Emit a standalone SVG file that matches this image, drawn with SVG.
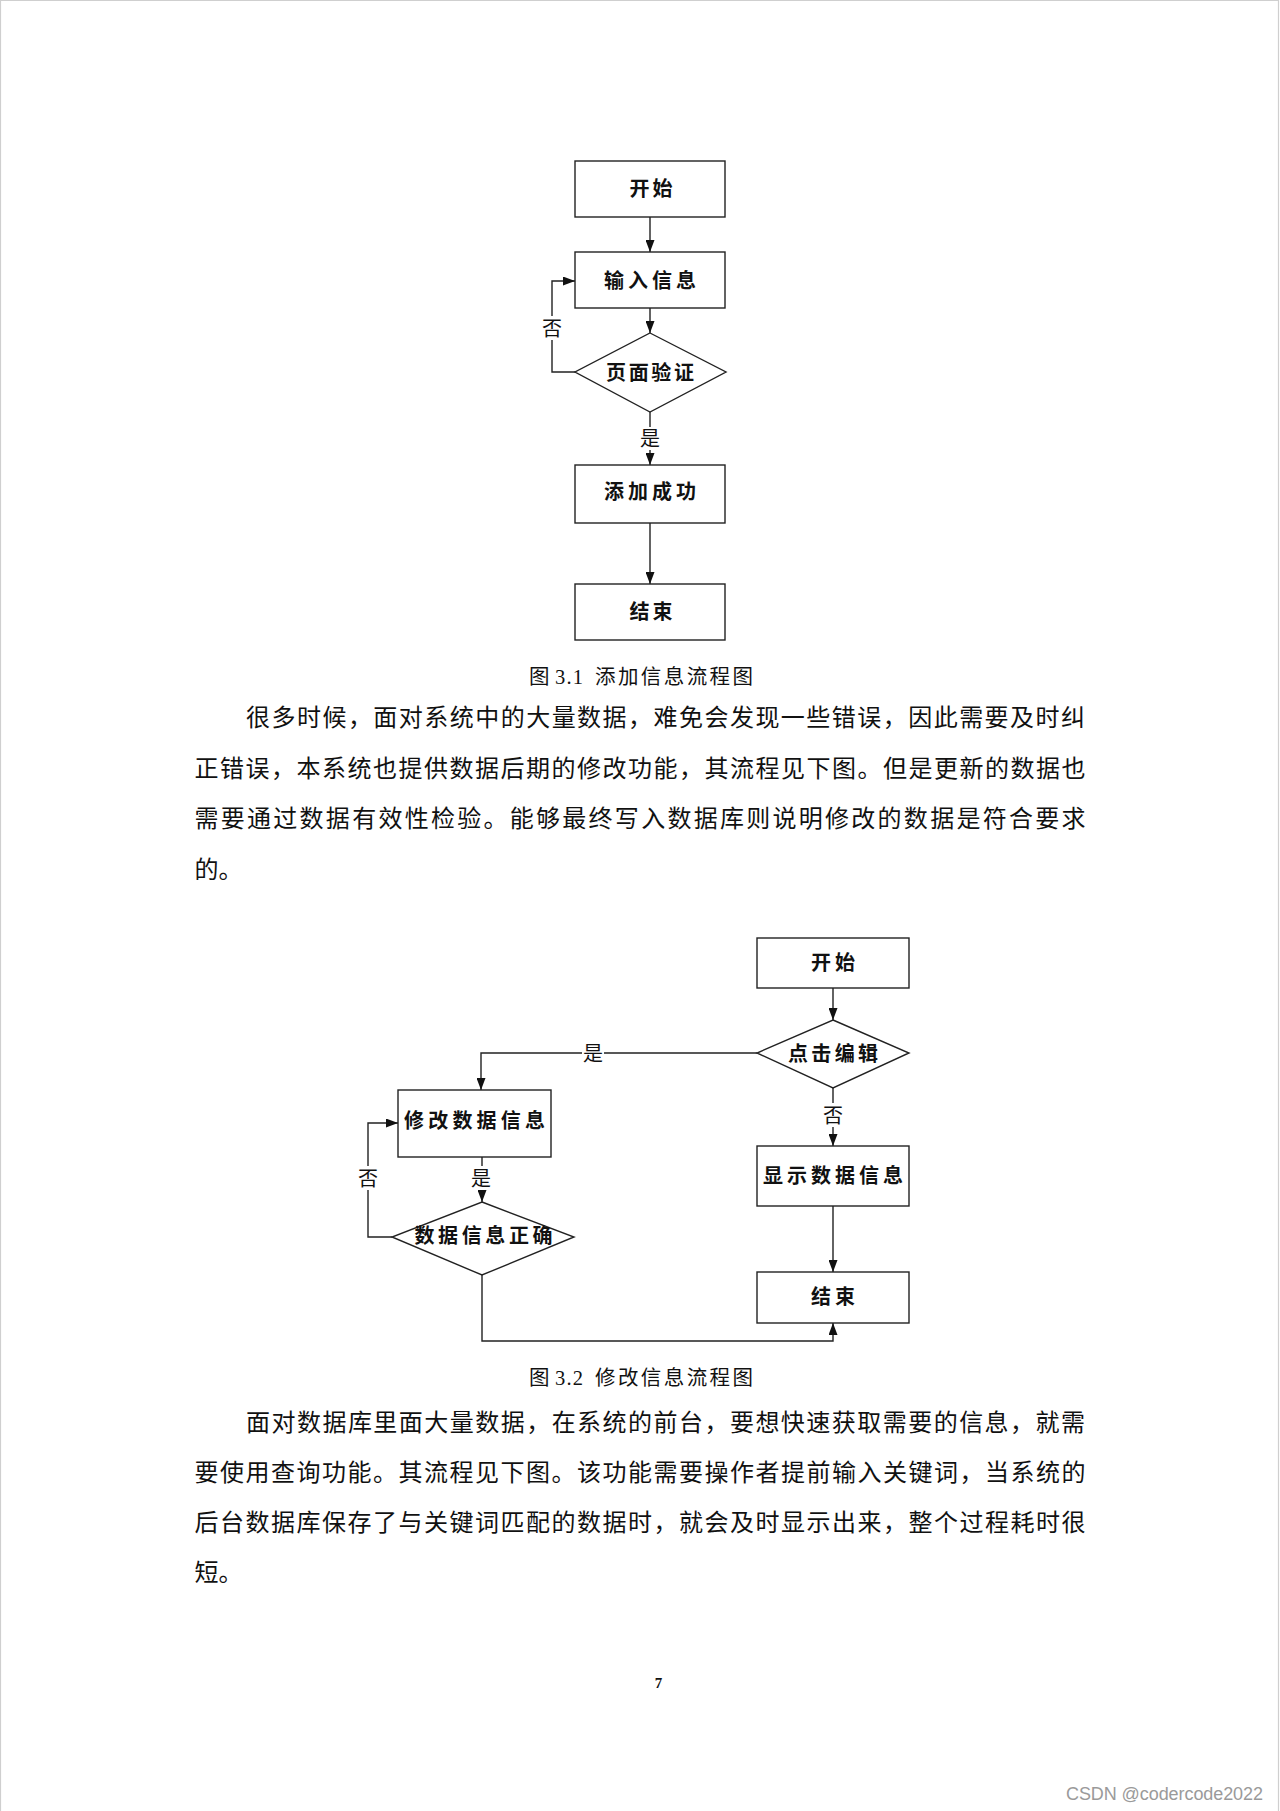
<svg xmlns="http://www.w3.org/2000/svg" width="1280" height="1811" viewBox="0 0 1280 1811">
<defs>
<style>
.box{fill:#fff;stroke:#222;stroke-width:1.4}
.ln{fill:none;stroke:#222;stroke-width:1.4}
.nt{font-family:"Liberation Serif","Noto Sans CJK SC",serif;font-size:20px;font-weight:700;fill:#111;text-anchor:middle}
.lb{font-family:"Liberation Serif","Noto Sans CJK SC",serif;font-size:20px;fill:#111;text-anchor:middle}
.body{font-family:"Liberation Serif","Noto Sans CJK SC",serif;font-size:24px;fill:#111}
.cap{font-family:"Liberation Serif","Noto Sans CJK SC",serif;font-size:20.5px;fill:#111}
.bg{fill:#fff}
</style>
<marker id="ah" markerUnits="userSpaceOnUse" markerWidth="12" markerHeight="9" refX="12" refY="4.5" orient="auto">
<path d="M0,0 L12,4.5 L0,9 z" fill="#111"/>
</marker>
</defs>
<rect x="0" y="0" width="1280" height="1811" fill="#fff"/>
<path d="M0.5,1811 V0.5 H1278.5 V1811" fill="none" stroke="#cfcfcf" stroke-width="1.2"/>

<g id="connectors">
<path class="ln" d="M650,217 V252" marker-end="url(#ah)"/>
<path class="ln" d="M650,308 V333" marker-end="url(#ah)"/>
<path class="ln" d="M575,372 H552 V281 H575" marker-end="url(#ah)"/>
<path class="ln" d="M650,412 V465" marker-end="url(#ah)"/>
<path class="ln" d="M650,523 V584" marker-end="url(#ah)"/>
<path class="ln" d="M833,988 V1020" marker-end="url(#ah)"/>
<path class="ln" d="M757,1053 H481 V1090" marker-end="url(#ah)"/>
<path class="ln" d="M482,1157 V1202" marker-end="url(#ah)"/>
<path class="ln" d="M392,1237 H368 V1123 H398" marker-end="url(#ah)"/>
<path class="ln" d="M482,1275 V1341 H833 V1323" marker-end="url(#ah)"/>
<path class="ln" d="M833,1088 V1146" marker-end="url(#ah)"/>
<path class="ln" d="M833,1206 V1272" marker-end="url(#ah)"/>
</g>

<g id="edge-labels">
<rect class="bg" x="542" y="316" width="20" height="24"/>
<text class="lb" x="552" y="336">否</text>
<rect class="bg" x="640" y="427" width="20" height="23"/>
<text class="lb" x="650" y="446">是</text>
<rect class="bg" x="582" y="1042" width="22" height="22"/>
<text class="lb" x="593" y="1061">是</text>
<rect class="bg" x="471" y="1166" width="20" height="24"/>
<text class="lb" x="481" y="1186">是</text>
<rect class="bg" x="358" y="1166" width="20" height="24"/>
<text class="lb" x="368" y="1186">否</text>
<rect class="bg" x="823" y="1103" width="20" height="24"/>
<text class="lb" x="833" y="1123">否</text>
</g>

<g id="n1-start">
<rect class="box" x="575" y="161" width="150" height="56"/>
<text class="nt" x="651" y="196" textLength="43">开始</text>
</g>
<g id="n1-input">
<rect class="box" x="575" y="252" width="150" height="56"/>
<text class="nt" x="650" y="287.5" textLength="92">输入信息</text>
</g>
<g id="n1-check">
<polygon class="box" points="650,333 726,372 650,412 575,372"/>
<text class="nt" x="650" y="379.5" textLength="88">页面验证</text>
</g>
<g id="n1-success">
<rect class="box" x="575" y="465" width="150" height="58"/>
<text class="nt" x="650" y="499" textLength="92">添加成功</text>
</g>
<g id="n1-end">
<rect class="box" x="575" y="584" width="150" height="56"/>
<text class="nt" x="651" y="619" textLength="43">结束</text>
</g>

<text class="cap" x="529" y="684">图</text>
<text class="cap" x="555" y="684" font-family="Liberation Serif" textLength="28">3.1</text>
<text class="cap" x="595" y="684" textLength="158">添加信息流程图</text>

<g id="para1">
<text class="body" x="246" y="726" textLength="839" lengthAdjust="spacing">很多时候，面对系统中的大量数据，难免会发现一些错误，因此需要及时纠</text>
<text class="body" x="194.5" y="777" textLength="891" lengthAdjust="spacing">正错误，本系统也提供数据后期的修改功能，其流程见下图。但是更新的数据也</text>
<text class="body" x="194.5" y="827" textLength="891" lengthAdjust="spacing">需要通过数据有效性检验。能够最终写入数据库则说明修改的数据是符合要求</text>
<text class="body" x="194.5" y="878">的。</text>
</g>

<g id="n2-start">
<rect class="box" x="757" y="938" width="152" height="50"/>
<text class="nt" x="833" y="969.5" textLength="44">开始</text>
</g>
<g id="n2-click">
<polygon class="box" points="833,1020 909,1053 833,1088 757,1053"/>
<text class="nt" x="833" y="1061" textLength="90">点击编辑</text>
</g>
<g id="n2-modify">
<rect class="box" x="398" y="1090" width="153" height="67"/>
<text class="nt" x="474.5" y="1127.5" textLength="141">修改数据信息</text>
</g>
<g id="n2-valid">
<polygon class="box" points="482,1202 574,1237 482,1275 392,1237"/>
<text class="nt" x="483.5" y="1242.5" textLength="138">数据信息正确</text>
</g>
<g id="n2-show">
<rect class="box" x="757" y="1146" width="152" height="60"/>
<text class="nt" x="833" y="1182.5" textLength="140">显示数据信息</text>
</g>
<g id="n2-end">
<rect class="box" x="757" y="1272" width="152" height="51"/>
<text class="nt" x="833" y="1304" textLength="44">结束</text>
</g>

<text class="cap" x="529" y="1385">图</text>
<text class="cap" x="555" y="1385" font-family="Liberation Serif" textLength="28">3.2</text>
<text class="cap" x="595" y="1385" textLength="158">修改信息流程图</text>

<g id="para2">
<text class="body" x="246" y="1430.5" textLength="839" lengthAdjust="spacing">面对数据库里面大量数据，在系统的前台，要想快速获取需要的信息，就需</text>
<text class="body" x="194.5" y="1481" textLength="891" lengthAdjust="spacing">要使用查询功能。其流程见下图。该功能需要操作者提前输入关键词，当系统的</text>
<text class="body" x="194.5" y="1531" textLength="891" lengthAdjust="spacing">后台数据库保存了与关键词匹配的数据时，就会及时显示出来，整个过程耗时很</text>
<text class="body" x="194.5" y="1581">短。</text>
</g>

<text x="658.5" y="1688" font-family="Liberation Serif" font-size="15" font-weight="700" fill="#111" text-anchor="middle">7</text>
<text x="1066" y="1800" font-family="Liberation Sans" font-size="18" fill="#9a9a9a" textLength="197">CSDN @codercode2022</text>
</svg>
